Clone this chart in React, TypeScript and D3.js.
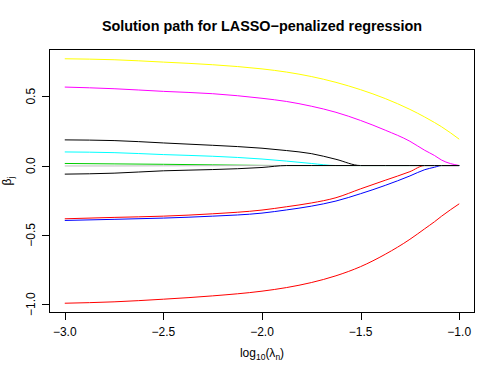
import * as d3 from "d3";

// log10(lambda) grid where the coefficient paths were read
const lambdaLog = [-3, -2.75, -2.5, -2.25, -2, -1.875, -1.75, -1.625, -1.5, -1.375, -1.25, -1.175, -1.125, -1.09, -1];

// coefficient paths, in R's default palette order (col 1..8, then recycled)
const beta1 = [0.185, 0.18, 0.163, 0.146, 0.125, 0.108, 0.086, 0.045, 0, 0, 0, 0, 0, 0, 0];
const beta2 = [-0.384, -0.374, -0.365, -0.348, -0.321, -0.297, -0.27, -0.232, -0.168, -0.106, -0.044, 0, 0, 0, 0];
const beta3 = [0.015, 0.012, 0.009, 0.005, 0.001, 0, 0, 0, 0, 0, 0, 0, 0, 0, 0];
const beta4 = [-0.396, -0.388, -0.379, -0.365, -0.343, -0.32, -0.293, -0.256, -0.203, -0.143, -0.075, -0.03, -0.012, 0, 0];
const beta5 = [0.098, 0.093, 0.079, 0.067, 0.047, 0.032, 0.015, 0, 0, 0, 0, 0, 0, 0, 0];
const beta6 = [0.566, 0.554, 0.535, 0.518, 0.485, 0.462, 0.428, 0.384, 0.325, 0.255, 0.175, 0.11, 0.072, 0.04, 0];
const beta7 = [0.77, 0.763, 0.746, 0.727, 0.697, 0.674, 0.642, 0.6, 0.547, 0.483, 0.405, 0.35, 0.31, 0.28, 0.19];
const beta8 = [-0.003, -0.003, -0.002, -0.001, 0, 0, 0, 0, 0, 0, 0, 0, 0, 0, 0];
const beta9 = [-0.062, -0.055, -0.038, -0.029, -0.014, 0, 0, 0, 0, 0, 0, 0, 0, 0, 0];
const beta10 = [-0.993, -0.983, -0.964, -0.94, -0.906, -0.88, -0.844, -0.795, -0.729, -0.64, -0.532, -0.456, -0.405, -0.366, -0.276];

const paths = [beta1, beta2, beta3, beta4, beta5, beta6, beta7, beta8, beta9, beta10];
const palette = ["#000000", "#FF0000", "#00CD00", "#0000FF", "#00FFFF", "#FF00FF", "#FFFF00", "#BEBEBE"];

const xTicks = [-3, -2.5, -2, -1.5, -1];
const yTicks = [-1, -0.5, 0, 0.5];

const W = 500;
const H = 375;
const box = { left: 49, right: 475, top: 49, bottom: 313 };
const font = "'Liberation Sans', Arial, Helvetica, sans-serif";

// R pads the data range by 4% on each side
const pad = (ext: number[]) => {
  const d = (ext[1] - ext[0]) * 0.04;
  return [ext[0] - d, ext[1] + d];
};

export default function App() {
  const x = d3.scaleLinear().domain(pad(d3.extent(lambdaLog) as number[])).range([box.left, box.right]);
  const yExt = [d3.min(paths, (p) => d3.min(p)) as number, d3.max(paths, (p) => d3.max(p)) as number];
  const y = d3.scaleLinear().domain(pad(yExt)).range([box.bottom, box.top]);

  const line = d3
    .line<number>()
    .x((_, i) => x(lambdaLog[i]))
    .y((d) => y(d))
    .curve(d3.curveMonotoneX);

  const fmt = d3.format(".1f");
  const label = (v: number) => fmt(v).replace("-", "\u2212");

  return (
    <svg
      width={W}
      height={H}
      style={{ position: "absolute", left: 0, top: 0, background: "#fff" }}
      fontFamily={font}
    >
      <text x={(box.left + box.right) / 2} y={31} textAnchor="middle" fontSize={14.4} fontWeight="bold">
        Solution path for LASSO{"\u2212"}penalized regression
      </text>

      <g fill="none" strokeWidth={1}>
        {paths.map((p, i) => (
          <path key={i} d={line(p) ?? ""} stroke={palette[i % palette.length]} />
        ))}
      </g>

      <rect
        x={box.left + 0.5}
        y={box.top + 0.5}
        width={box.right - box.left - 1}
        height={box.bottom - box.top - 1}
        fill="none"
        stroke="#000"
      />

      {/* x axis */}
      <g stroke="#000" fill="none">
        <line x1={x(-3)} x2={x(-1)} y1={box.bottom - 0.5} y2={box.bottom - 0.5} />
        {xTicks.map((t) => (
          <line key={t} x1={Math.round(x(t)) + 0.5} x2={Math.round(x(t)) + 0.5} y1={box.bottom} y2={box.bottom + 7} />
        ))}
      </g>
      {xTicks.map((t) => (
        <text key={t} x={x(t)} y={336} textAnchor="middle" fontSize={12}>
          {label(t)}
        </text>
      ))}
      <text x={(box.left + box.right) / 2} y={357} textAnchor="middle" fontSize={12}>
        log<tspan fontSize={8.5} dy={3}>10</tspan>
        <tspan dy={-3}>(λ</tspan>
        <tspan fontSize={8.5} dy={3}>n</tspan>
        <tspan dy={-3}>)</tspan>
      </text>

      {/* y axis */}
      <g stroke="#000" fill="none">
        <line x1={box.left + 0.5} x2={box.left + 0.5} y1={y(-1)} y2={y(0.5)} />
        {yTicks.map((t) => (
          <line key={t} x1={box.left - 7} x2={box.left} y1={Math.round(y(t)) + 0.5} y2={Math.round(y(t)) + 0.5} />
        ))}
      </g>
      {yTicks.map((t) => (
        <text
          key={t}
          transform={`translate(35,${y(t)}) rotate(-90)`}
          textAnchor="middle"
          fontSize={12}
        >
          {label(t)}
        </text>
      ))}
      <text transform={`translate(11,${(box.top + box.bottom) / 2}) rotate(-90)`} textAnchor="middle" fontSize={12}>
        β<tspan fontSize={8.5} dy={3}>j</tspan>
      </text>
    </svg>
  );
}
